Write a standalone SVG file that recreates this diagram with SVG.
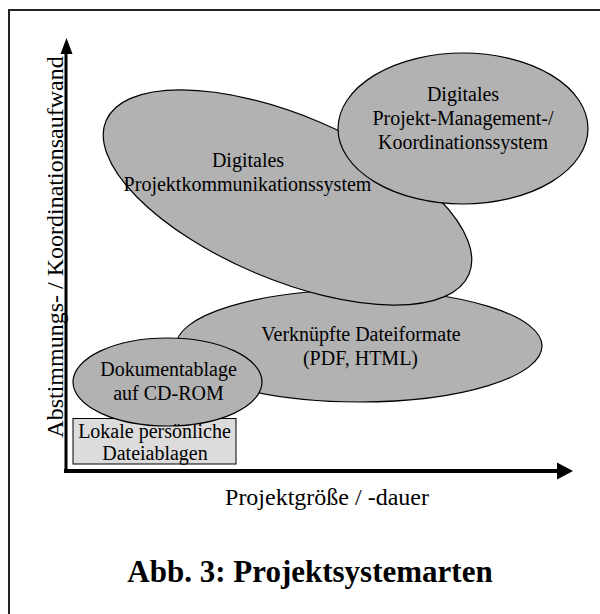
<svg xmlns="http://www.w3.org/2000/svg" width="600" height="614" viewBox="0 0 600 614">
<defs>
<style>
.ell{fill:#b2b2b2;stroke:#000;stroke-width:1.2}
.t{font-family:"Liberation Serif","Times New Roman",serif;font-size:20px;fill:#000;text-anchor:middle}
.ax{font-family:"Liberation Serif","Times New Roman",serif;font-size:24px;fill:#000;text-anchor:middle}
.title{font-family:"Liberation Serif","Times New Roman",serif;font-size:31px;font-weight:bold;fill:#000;text-anchor:middle}
</style>
<mask id="cutDok" maskUnits="userSpaceOnUse" x="0" y="0" width="600" height="614">
<rect x="0" y="0" width="600" height="614" fill="#fff"/>
<ellipse cx="167.5" cy="382" rx="94.5" ry="44" fill="#000"/>
</mask>
</defs>
<rect width="600" height="614" fill="#fff"/>
<rect x="9" y="10" width="620" height="640" fill="none" stroke="#222" stroke-width="2"/>

<g id="connectors">
<line x1="66" y1="52" x2="66" y2="473" stroke="#000" stroke-width="3"/>
<polygon points="66.5,38 60.5,54 72.5,54" fill="#000"/>
<line x1="64" y1="471" x2="559" y2="471" stroke="#000" stroke-width="4"/>
<polygon points="573,471 557,462.5 557,479.5" fill="#000"/>
</g>

<text class="ax" transform="translate(62.5,247) rotate(-90)">Abstimmungs- / Koordinationsaufwand</text>
<text class="ax" x="327" y="505">Projektgröße / -dauer</text>

<g id="lokale-box">
<rect x="73" y="418.5" width="163" height="45.5" fill="#dcdcdc" stroke="#000" stroke-width="1"/>
</g>

<g id="verknuepfte">
<ellipse class="ell" cx="359" cy="346" rx="183" ry="56"/>
<text class="t" x="361" y="341">Verknüpfte Dateiformate</text>
<text class="t" x="360.5" y="365">(PDF, HTML)</text>
</g>

<g id="projektkommunikation">
<ellipse class="ell" cx="0" cy="0" rx="197" ry="82" transform="translate(287.5,197.5) rotate(22.9)"/>
<text class="t" x="248" y="166.5">Digitales</text>
<text class="t" x="247.5" y="190.5">Projektkommunikationssystem</text>
</g>

<g id="projekt-management">
<ellipse class="ell" cx="463" cy="128.5" rx="125" ry="75.5"/>
<text class="t" x="463" y="100.5">Digitales</text>
<text class="t" x="463" y="124.5">Projekt-Management-/</text>
<text class="t" x="463" y="148.5">Koordinationssystem</text>
</g>

<g id="dokumentablage">
<ellipse class="ell" cx="167.5" cy="382" rx="94.5" ry="44"/>
<text class="t" x="168.5" y="376">Dokumentablage</text>
<text class="t" x="168.5" y="399.5">auf CD-ROM</text>
</g>

<g id="lokale">
<text class="t" x="154.5" y="437.5">Lokale persönliche</text>
<text class="t" x="155" y="460">Dateiablagen</text>
</g>

<text class="title" x="310" y="582">Abb. 3: Projektsystemarten</text>
</svg>
